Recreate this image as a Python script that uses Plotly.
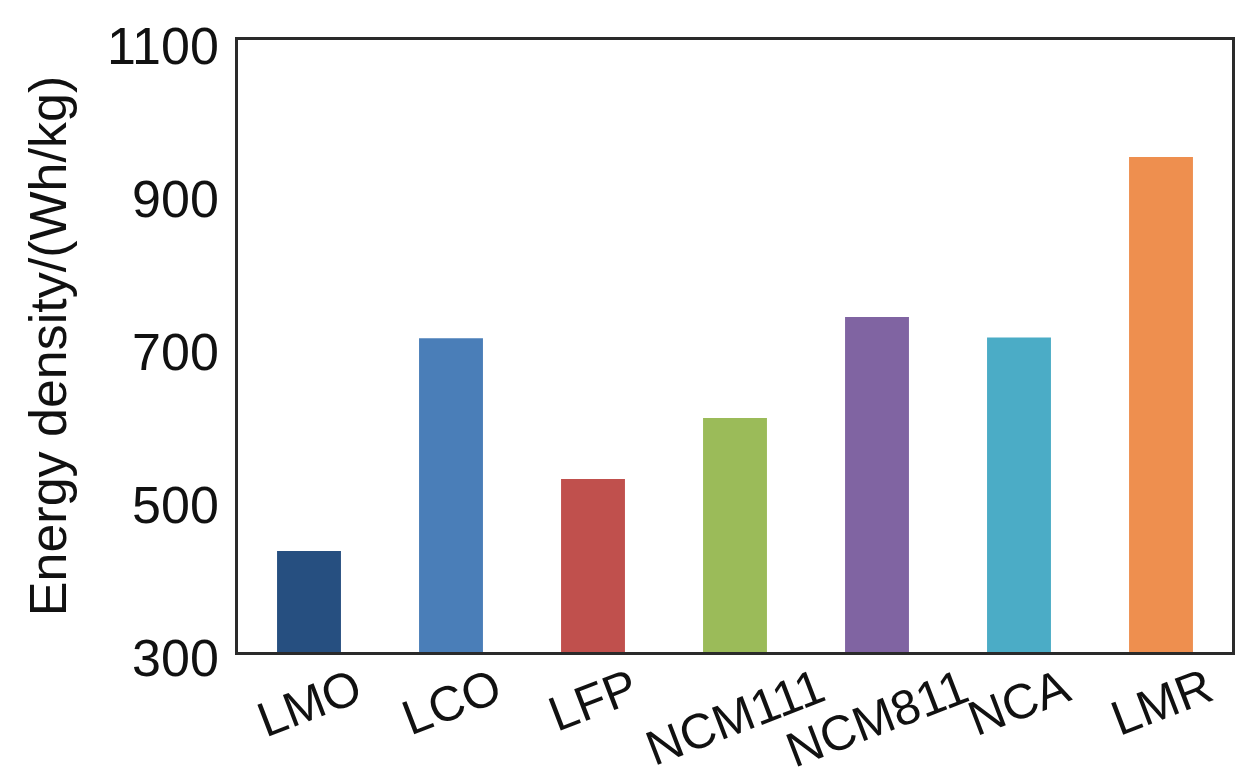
import plotly.graph_objects as go

categories = ['LMO', 'LCO', 'LFP', 'NCM111', 'NCM811', 'NCA', 'LMR']
energy_density = [432, 710, 526, 606, 738, 711, 947]
bar_colors = ['#264f80', '#4a7eb8', '#c0504d', '#9bbb59',
              '#8064a2', '#4bacc6', '#ee8f4f']
y_ticks = [300, 500, 700, 900, 1100]

font_family = 'Arial, Liberation Sans, sans-serif'

fig = go.Figure(go.Bar(x=categories, y=energy_density,
                       marker_color=bar_colors, marker_line_width=0,
                       width=0.45))

# rotated category labels, centred under each bar
for cat in categories:
    fig.add_annotation(x=cat, y=0, xref='x', yref='paper',
                       text=cat, textangle=-21, showarrow=False,
                       xanchor='center', yanchor='top', yshift=-4,
                       font=dict(size=49, color='#111111',
                                 family=font_family))

# page body adds ~8px offset, so the figure is sized a bit smaller
fig.update_layout(
    width=1237, height=769,
    margin=dict(l=230, r=13, t=32, b=125),
    paper_bgcolor='white', plot_bgcolor='white',
    font=dict(family=font_family, color='#111111'),
    showlegend=False,
)
fig.update_xaxes(showticklabels=False, showgrid=False, zeroline=False,
                 showline=True, linewidth=2.5, linecolor='#2a2a2a',
                 mirror=True, range=[-0.5, 6.5], automargin=False)
fig.update_yaxes(range=[300, 1100], tickvals=y_ticks, showgrid=False,
                 zeroline=False, showline=True, linewidth=2.5,
                 linecolor='#2a2a2a', mirror=True, ticks='',
                 ticklabelstandoff=6, ticklabelshift=6, automargin=False,
                 tickfont=dict(size=52, color='#111111'),
                 title=dict(text='Energy density/(Wh/kg)', standoff=24,
                            font=dict(size=52, color='#111111')))

fig.write_html("out.html")
